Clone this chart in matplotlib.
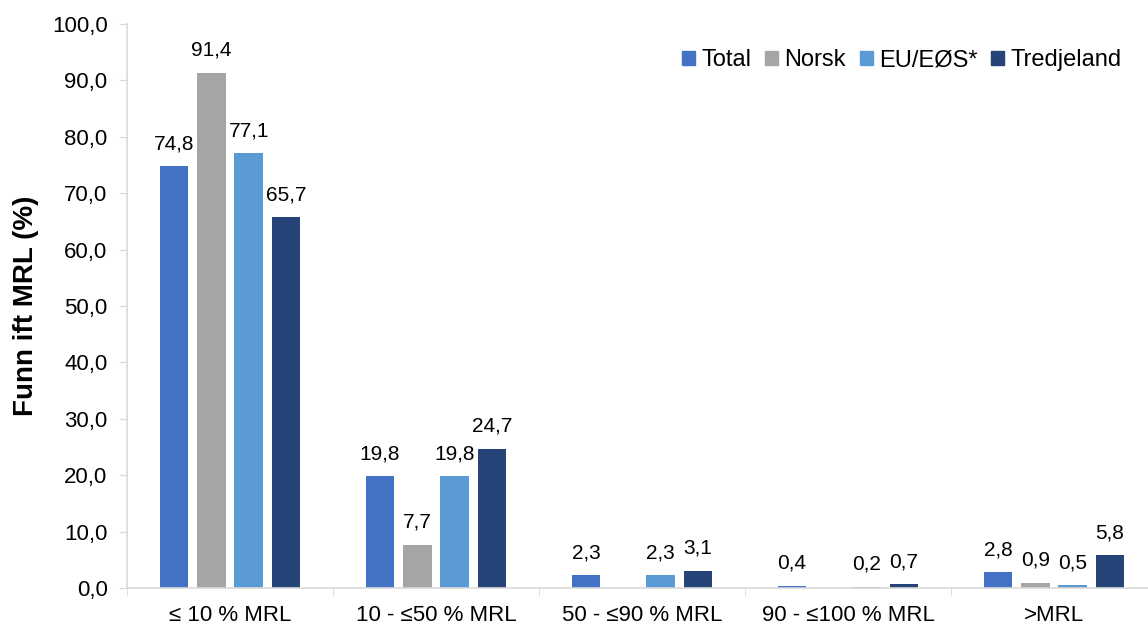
import numpy as np
import matplotlib.pyplot as plt
from matplotlib.patches import Patch

plt.rcParams['font.family'] = ['Liberation Sans', 'DejaVu Sans']

# data
kategorier = ['≤ 10 % MRL', '10 - ≤50 % MRL', '50 - ≤90 % MRL', '90 - ≤100 % MRL', '>MRL']
serier = ['Total', 'Norsk', 'EU/EØS*', 'Tredjeland']
total = [74.8, 19.8, 2.3, 0.4, 2.8]
norsk = [91.4, 7.7, 0.0, 0.0, 0.9]
eu_eos = [77.1, 19.8, 2.3, 0.2, 0.5]
tredjeland = [65.7, 24.7, 3.1, 0.7, 5.8]
farger = ['#4472C4', '#A5A5A5', '#5B9BD5', '#264478']

fig = plt.figure(figsize=(11.48, 6.25), dpi=100)
ax = fig.add_axes([127 / 1148, 37 / 625, 1030 / 1148, 564 / 625])

x = np.arange(len(kategorier))
bredde = 0.14
steg = 0.181
for i, (navn, verdier, farge) in enumerate(zip(serier, [total, norsk, eu_eos, tredjeland], farger)):
    pos = x + (i - 1.5) * steg
    ax.bar(pos, verdier, width=bredde, color=farge, label=navn)
    for px, v in zip(pos, verdier):
        if v > 0:
            ax.text(px, v + 2.3, f'{v:.1f}'.replace('.', ','), ha='center', va='bottom', fontsize=15)

ax.set_xlim(-0.5, 4.5)
ax.set_ylim(0, 100)
ax.set_yticks(np.arange(0, 101, 10))
ax.set_yticklabels([f'{t:.1f}'.replace('.', ',') for t in np.arange(0, 101, 10)], fontsize=16)
ax.set_xticks(x)
ax.set_xticklabels(kategorier, fontsize=16)
ax.set_xticks(np.arange(-0.5, 4.6, 1), minor=True)
ax.tick_params(axis='x', which='major', length=0, pad=12)
ax.tick_params(axis='x', which='minor', length=6, color='#D9D9D9')
ax.tick_params(axis='y', length=6, color='#D9D9D9', pad=8)
ax.set_ylabel('Funn ift MRL (%)', fontsize=20, fontweight='bold', labelpad=9)

for s in ['top', 'right']:
    ax.spines[s].set_visible(False)
for s in ['left', 'bottom']:
    ax.spines[s].set_color('#D9D9D9')
    ax.spines[s].set_linewidth(1.2)

handles = [Patch(color=f) for f in farger]
ax.legend(handles, serier, loc='upper right', bbox_to_anchor=(0.986, 0.993), ncol=4, frameon=False,
          fontsize=17, handlelength=0.55, handleheight=0.55, handletextpad=0.25, columnspacing=0.6)

fig.savefig('out.png', dpi=100)
